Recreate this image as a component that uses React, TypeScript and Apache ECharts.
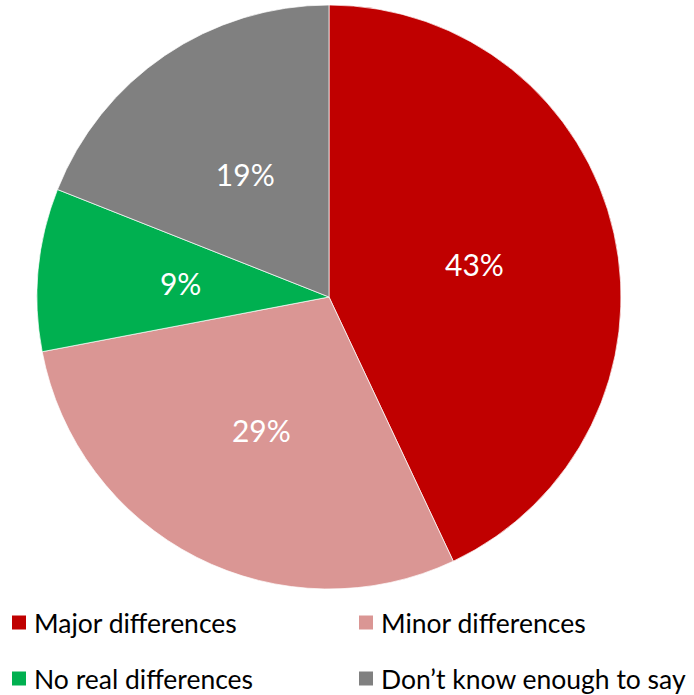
import React, { useEffect, useRef } from "react";
import * as echarts from "echarts";

const categories = ["Major differences", "Minor differences", "No real differences", "Don’t know enough to say"];
const values = [43, 29, 9, 19];
const colors = ["#C00000", "#DA9694", "#00B050", "#808080"];

const FONT = "Lato, 'Noto Sans', sans-serif";
const legendSlots = [
  { left: 10, top: 609 },
  { left: 357, top: 609 },
  { left: 10, top: 665 },
  { left: 357, top: 665 },
];

export default function App() {
  const ref = useRef<HTMLDivElement>(null);
  useEffect(() => {
    const chart = echarts.init(ref.current!, undefined, { renderer: "svg" });
    const legendCommon = {
      orient: "horizontal" as const,
      itemWidth: 16,
      itemHeight: 16,
      icon: "rect",
      textStyle: { fontFamily: FONT, fontSize: 26.5, color: "#000", lineHeight: 24, padding: [0, 0, 0, 2] },
      padding: 0,
      selectedMode: false,
    };
    chart.setOption({
      animation: false,
      color: colors,
      legend: categories.map((c, i) => ({ ...legendCommon, ...legendSlots[i], data: [c] })),
      series: [
        {
          type: "pie",
          center: [329, 297],
          radius: [0, 292],
          startAngle: 90,
          clockwise: true,
          data: categories.map((c, i) => ({ name: c, value: values[i] })),
          itemStyle: { borderColor: "#fff", borderWidth: 0.7 },
          label: {
            position: "inside",
            formatter: "{c}%",
            color: "#fff",
            fontFamily: FONT,
            fontSize: 30,
          },
          labelLine: { show: false },
          emphasis: { disabled: true },
        },
      ],
    });
    return () => chart.dispose();
  }, []);
  return <div ref={ref} style={{ position: "absolute", left: 0, top: 0, width: 694, height: 695 }} />;
}
